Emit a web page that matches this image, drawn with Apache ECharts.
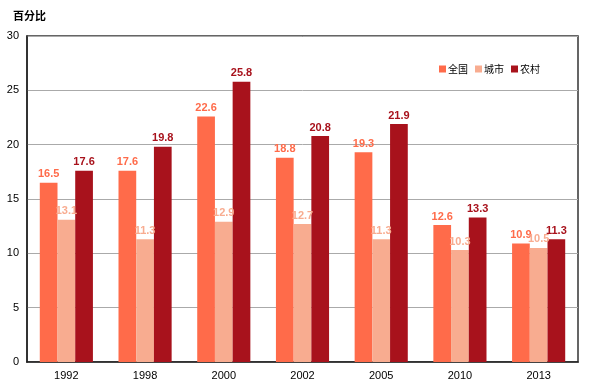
<!DOCTYPE html>
<html><head><meta charset="utf-8">
<script src="https://cdn.jsdelivr.net/npm/echarts@6/dist/echarts.min.js"></script>
<style>html,body{margin:0;padding:0;background:#fff}#c{width:604px;height:391px}</style>
</head><body><div id="c"></div>
<script>
const categories = ['1992','1998','2000','2002','2005','2010','2013'];
const seriesNames = ['全国','城市','农村'];
const national = [16.5,17.6,22.6,18.8,19.3,12.6,10.9];
const urban = [13.1,11.3,12.9,12.7,11.3,10.3,10.5];
const rural = [17.6,19.8,25.8,20.8,21.9,13.3,11.3];
const yTicks = [0,5,10,15,20,25,30];
const colors = ['#FF6B4A','#F8AC90','#A8121C'];
const values = [national, urban, rural];

const chart = echarts.init(document.getElementById('c'), null, {renderer:'canvas'});
chart.setOption({
  animation:false,
  backgroundColor:'#fff',
  title:{text:'百分比', left:8, top:5, textStyle:{fontSize:11, fontWeight:'bold', color:'#000', fontFamily:'Noto Sans CJK SC'}},
  legend:{
    right:59, top:59, itemWidth:7, itemHeight:7, itemGap:7,
    icon:'rect',
    textStyle:{fontSize:10, color:'#000', fontFamily:'Noto Sans CJK SC', padding:[0,0,0,-3]},
    data:seriesNames
  },
  grid:{left:27, right:26, top:36, bottom:29, show:true, borderColor:'#333', borderWidth:1.5},
  xAxis:{
    type:'category', data:categories,
    axisLine:{lineStyle:{color:'#222', width:1.5}},
    axisTick:{show:false},
    axisLabel:{color:'#000', fontSize:11, fontFamily:'Liberation Sans, Arial', margin:8}
  },
  yAxis:{
    type:'value', min:0, max:30, interval:5,
    axisLine:{show:true, lineStyle:{color:'#222', width:1.5}},
    axisTick:{show:false},
    splitLine:{lineStyle:{color:'#aaa', width:1}},
    axisLabel:{color:'#000', fontSize:11, fontFamily:'Liberation Sans, Arial', margin:8,
      formatter:function(v){return yTicks.indexOf(v)>=0?String(v):'';}}
  },
  series: seriesNames.map((n,i)=>({
    name:n, type:'bar', data:values[i],
    barWidth:'22.5%', barGap:'0%', barCategoryGap:'32%',
    itemStyle:{color:colors[i]},
    label:{show:true, position:'top', distance:3, color:colors[i], fontSize:11, fontWeight:'bold', fontFamily:'Liberation Sans, Arial'}
  }))
});
</script></body></html>
